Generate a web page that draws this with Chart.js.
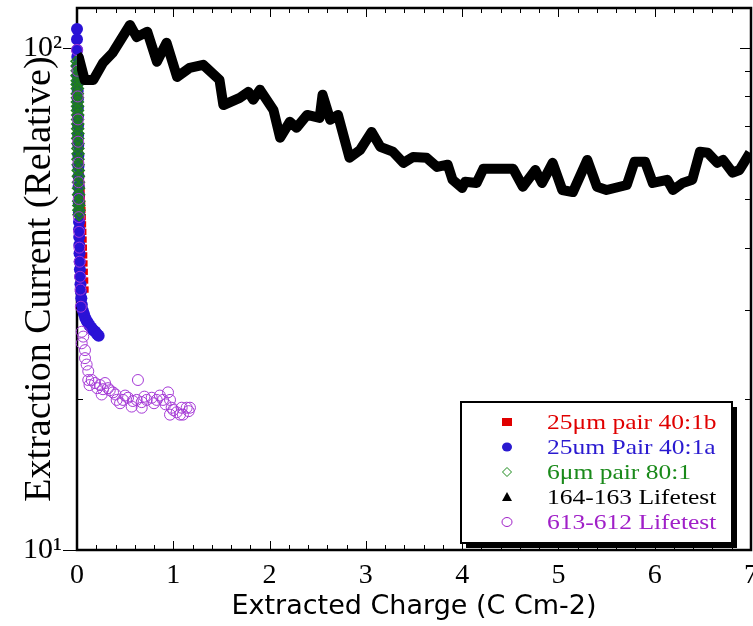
<!DOCTYPE html>
<html>
<head>
<meta charset="utf-8">
<script src="https://cdn.jsdelivr.net/npm/chart.js@4"></script>
<style>
html, body { margin: 0; padding: 0; background: #fff; }
</style>
</head>
<body>
<canvas id="chart" width="753" height="626"></canvas>
<script>
// axis ticks
const xTickValues = [0, 1, 2, 3, 4, 5, 6, 7];
const yTickValues = [10, 20, 30, 40, 50, 60, 70, 80, 90, 100];
const yTickLabels = { 10: '10\u00b9', 100: '10\u00b2' };

// 25um pair 40:1b
const redX = [0.000, 0.001, 0.002, 0.003, 0.004, 0.005, 0.006, 0.007, 0.008, 0.010, 0.012, 0.014, 0.016, 0.018,
  0.020, 0.023, 0.026, 0.029, 0.032, 0.035, 0.038, 0.041, 0.044, 0.047, 0.050, 0.053, 0.056, 0.059, 0.062,
  0.065, 0.068, 0.071, 0.074, 0.077, 0.080, 0.084, 0.088];
const redY = [100, 98, 96, 93.5, 91, 89, 86.5, 84, 82, 79.5, 77, 75, 73, 71, 69, 67, 65, 63, 61, 59,
  57, 55, 53.5, 52, 50.5, 49, 47.5, 46, 44.5, 43, 41.5, 40, 38.6, 37.2, 35.8, 34.4, 33];

// 25um Pair 40:1a
const blueX = [0.000, 0.000, 0.002, 0.003, 0.004, 0.005, 0.006, 0.007, 0.008, 0.009, 0.010, 0.011, 0.012, 0.013,
  0.014, 0.015, 0.016, 0.017, 0.018, 0.019, 0.020, 0.021, 0.022, 0.023, 0.024, 0.026, 0.028, 0.030, 0.033,
  0.036, 0.040, 0.045, 0.050, 0.060, 0.072, 0.085, 0.100, 0.115, 0.130, 0.150, 0.170, 0.190, 0.210, 0.225];
const blueY = [109, 104, 99, 96, 92, 88, 85, 82, 79, 76, 73, 70, 67, 64, 61, 58, 55.5, 53, 51, 49,
  47, 45, 43.5, 42, 40.5, 39, 37.5, 36.2, 35, 33.8, 32.7, 31.7, 30.8, 30.0, 29.5, 29.0, 28.6, 28.3,
  28.0, 27.7, 27.4, 27.2, 26.9, 26.7];

// 6um pair 80:1
const greenX = [0.000, 0.001, 0.002, 0.001, 0.003, 0.002, 0.004, 0.003, 0.005, 0.004, 0.006, 0.005, 0.007, 0.006,
  0.008, 0.007, 0.009, 0.008, 0.010, 0.009, 0.011, 0.010, 0.012, 0.013, 0.014, 0.015, 0.016, 0.017, 0.018,
  0.019, 0.020, 0.021];
const greenY = [94, 92, 90, 88, 86, 84.5, 83, 81, 79.5, 78, 76.5, 75, 73.5, 72, 70.5, 69, 67.5, 66, 64.5, 63,
  61.5, 60, 58.5, 57, 55.5, 54, 52.5, 51, 49.5, 48.5, 47.5, 46.5];

// 164-163 Lifetest
const blackX = [0.00, 0.02, 0.08, 0.17, 0.27, 0.37, 0.55, 0.62, 0.73, 0.83, 0.93, 1.04, 1.17, 1.31, 1.48, 1.52,
  1.69, 1.78, 1.83, 1.90, 2.04, 2.11, 2.21, 2.28, 2.39, 2.52, 2.55, 2.63, 2.71, 2.83, 2.94, 3.06, 3.15, 3.28,
  3.39, 3.49, 3.63, 3.74, 3.85, 3.90, 4.00, 4.03, 4.15, 4.22, 4.53, 4.63, 4.76, 4.83, 4.94, 5.04, 5.15, 5.30,
  5.40, 5.50, 5.71, 5.79, 5.90, 5.98, 6.13, 6.19, 6.29, 6.39, 6.47, 6.55, 6.65, 6.71, 6.81, 6.88, 6.99];
const blackY = [97.0, 95.5, 86.3, 86.3, 93.3, 97.7, 111, 105, 107.6, 93.8, 102.3, 87.5, 91.2, 92.5, 86.3, 76.9,
  79.5, 81.7, 78.8, 82.5, 75.2, 66.2, 71.2, 69.3, 73.5, 72.5, 80.6, 71.9, 73.5, 60.4, 62.6, 68.0, 63.5, 62.1,
  59.0, 60.6, 60.4, 57.9, 58.5, 54.6, 52.6, 54.1, 53.8, 57.4, 57.4, 52.9, 57.1, 53.8, 59.0, 52.1, 51.6, 59.8,
  52.9, 52.1, 53.3, 59.3, 59.3, 53.8, 54.6, 52.1, 53.8, 54.6, 62.1, 61.8, 59.0, 59.8, 56.4, 57.1, 61.8];

// 613-612 Lifetest
const purpleX = [0.000, 0.005, 0.008, 0.010, 0.012, 0.014, 0.016, 0.018, 0.020, 0.022, 0.025, 0.028, 0.032, 0.036,
  0.040, 0.049, 0.065, 0.049, 0.083, 0.083, 0.100, 0.117, 0.117, 0.153, 0.187, 0.239, 0.256, 0.291, 0.322,
  0.374, 0.412, 0.447, 0.478, 0.530, 0.568, 0.620, 0.633, 0.672, 0.672, 0.724, 0.776, 0.828, 0.893, 0.945,
  0.966, 0.966, 0.983, 1.035, 1.070, 1.087, 1.139, 1.173,
  0.13, 0.21, 0.27, 0.34, 0.40, 0.50, 0.58, 0.70, 0.80, 0.86, 0.92, 1.00, 1.10, 1.16];
const purpleY = [99, 90, 80, 72, 65, 59, 54, 50, 46, 43, 40, 37.5, 35, 33, 30.5, 27.2, 26.6, 25.8, 25.0, 24.1,
  23.4, 22.7, 21.8, 21.8, 21.5, 21.3, 20.4, 21.5, 21.0, 20.6, 19.9, 19.6, 19.9, 20.1, 19.3, 19.9, 21.8, 19.7,
  19.2, 19.9, 20.1, 19.9, 19.9, 20.6, 19.9, 18.6, 19.2, 18.8, 18.6, 19.2, 19.2, 19.2,
  21.3, 21.0, 20.9, 20.8, 20.4, 20.3, 19.8, 20.2, 19.6, 20.3, 19.5, 19.0, 18.6, 18.9];

const serif = '"Liberation Serif", "Times New Roman", Times, serif';

function pts(xs, ys) {
  return xs.map((x, i) => ({ x: x, y: ys[i] }));
}

// inward tick marks and the frame, drawn under the data
const frameTicks = {
  id: 'frameTicks',
  beforeDatasetsDraw(chart) {
    const { ctx, chartArea: a, scales: { x, y } } = chart;
    const seg = (x1, y1, x2, y2) => {
      ctx.beginPath();
      ctx.moveTo(x1, y1);
      ctx.lineTo(x2, y2);
      ctx.stroke();
    };
    ctx.save();
    ctx.strokeStyle = '#000';
    ctx.lineWidth = 1;
    for (let i = 0; i <= 35; i++) {
      const px = Math.round(x.getPixelForValue(i / 5)) + 0.5;
      const len = i % 5 === 0 ? 9 : 5;
      seg(px, a.bottom, px, a.bottom - len);
      seg(px, a.top, px, a.top + len);
    }
    yTickValues.forEach(v => {
      const py = Math.round(y.getPixelForValue(v)) + 0.5;
      if (yTickLabels[v]) {
        seg(a.left - 14, py, a.left + 4, py);
        seg(a.right - 11, py, a.right, py);
      } else {
        seg(a.left, py, a.left + 6, py);
        seg(a.right - 6, py, a.right, py);
      }
    });
    ctx.lineWidth = 2.5;
    ctx.strokeRect(a.left, a.top, a.right - a.left, a.bottom - a.top);

    // x tick labels (drawn here so the last one can run off the canvas like the original)
    ctx.fillStyle = '#000';
    ctx.font = '28px ' + serif;
    ctx.textAlign = 'center';
    ctx.textBaseline = 'top';
    xTickValues.forEach(v => {
      ctx.fillText(String(v), x.getPixelForValue(v), a.bottom + 12);
    });
    ctx.restore();
  }
};

// boxed legend with drop shadow, lower right
const boxLegend = {
  id: 'boxLegend',
  afterDraw(chart) {
    const { ctx, chartArea: a } = chart;
    const w = 271, h = 141;
    const bx = a.right - 19 - w;
    const by = a.bottom - 7 - h;
    ctx.save();
    ctx.fillStyle = '#000';
    ctx.fillRect(bx + 5, by + 5, w, h);
    ctx.fillStyle = '#fff';
    ctx.fillRect(bx, by, w, h);
    ctx.lineWidth = 2;
    ctx.strokeStyle = '#000';
    ctx.strokeRect(bx, by, w, h);

    chart.data.datasets.forEach((ds, i) => {
      const cy = by + 20 + i * 25;
      const cx = bx + 46;
      ctx.lineWidth = 1;
      ctx.strokeStyle = ds.legendColor;
      ctx.fillStyle = ds.legendColor;
      ctx.beginPath();
      if (ds.legendStyle === 'rect') {
        ctx.fillRect(cx - 5, cy - 4, 10, 8);
      } else if (ds.legendStyle === 'circle') {
        ctx.ellipse(cx, cy, 5, 4.5, 0, 0, Math.PI * 2);
        ctx.fill();
      } else if (ds.legendStyle === 'diamond') {
        ctx.moveTo(cx, cy - 4.5);
        ctx.lineTo(cx + 4.5, cy);
        ctx.lineTo(cx, cy + 4.5);
        ctx.lineTo(cx - 4.5, cy);
        ctx.closePath();
        ctx.stroke();
      } else if (ds.legendStyle === 'triangle') {
        ctx.moveTo(cx, cy - 5);
        ctx.lineTo(cx + 5, cy + 4);
        ctx.lineTo(cx - 5, cy + 4);
        ctx.closePath();
        ctx.fill();
      } else {
        ctx.ellipse(cx, cy, 5, 4.5, 0, 0, Math.PI * 2);
        ctx.stroke();
      }
      ctx.save();
      ctx.translate(bx + 86, cy + 1);
      ctx.scale(1.16, 1);
      ctx.font = '22px ' + serif;
      ctx.textBaseline = 'middle';
      ctx.fillText(ds.label, 0, 0);
      ctx.restore();
    });
    ctx.restore();
  }
};

const ctx = document.getElementById('chart').getContext('2d');
new Chart(ctx, {
  type: 'scatter',
  data: {
    datasets: [{
      label: '25\u03bcm pair 40:1b',
      data: pts(redX, redY),
      order: 4,
      pointStyle: 'rect',
      pointRadius: 4.5,
      backgroundColor: '#ec0000',
      borderColor: '#ec0000',
      borderWidth: 0,
      legendStyle: 'rect',
      legendColor: '#e00000',
      clip: false
    }, {
      label: '25um Pair 40:1a',
      data: pts(blueX, blueY),
      order: 3,
      pointStyle: 'circle',
      pointRadius: 6,
      backgroundColor: '#2a12d6',
      borderColor: '#2a12d6',
      borderWidth: 0,
      legendStyle: 'circle',
      legendColor: '#2a1ad0',
      clip: false
    }, {
      label: '6\u03bcm pair 80:1',
      data: pts(greenX, greenY),
      order: 2,
      pointStyle: 'rectRot',
      pointRadius: 6,
      backgroundColor: 'rgba(30,125,30,0.55)',
      borderColor: '#1f7f1f',
      borderWidth: 1.5,
      legendStyle: 'diamond',
      legendColor: '#1a8a1a',
      clip: false
    }, {
      label: '164-163 Lifetest',
      data: pts(blackX, blackY),
      order: 0,
      showLine: true,
      pointRadius: 0,
      borderColor: '#000',
      backgroundColor: '#000',
      borderWidth: 10,
      borderJoinStyle: 'round',
      legendStyle: 'triangle',
      legendColor: '#000'
    }, {
      label: '613-612 Lifetest',
      data: pts(purpleX, purpleY),
      order: 1,
      pointStyle: 'circle',
      pointRadius: 5.5,
      backgroundColor: 'rgba(0,0,0,0)',
      borderColor: '#a53ad6',
      borderWidth: 1,
      legendStyle: 'ring',
      legendColor: '#a020c8',
      clip: false
    }]
  },
  options: {
    responsive: false,
    animation: false,
    layout: { autoPadding: false, padding: { top: 8, right: 2, left: 0, bottom: 0 } },
    plugins: {
      legend: { display: false },
      tooltip: { enabled: false }
    },
    scales: {
      x: {
        type: 'linear',
        min: 0,
        max: 7,
        grid: { display: false, drawTicks: false },
        border: { display: false },
        afterBuildTicks: s => { s.ticks = xTickValues.map(v => ({ value: v })); },
        afterFit: s => { s.height = 76; },
        ticks: { display: false },
        title: {
          display: true,
          text: 'Extracted Charge (C Cm-2)',
          color: '#000',
          font: { family: 'DejaVu Sans', size: 27 },
          padding: { top: 0, bottom: 3 }
        }
      },
      y: {
        type: 'logarithmic',
        min: 10,
        max: 120,
        grid: { display: false, drawTicks: false },
        border: { display: false },
        afterBuildTicks: s => { s.ticks = yTickValues.map(v => ({ value: v })); },
        afterFit: s => { s.width = 77; s.paddingTop = 0; s.paddingBottom = 0; },
        ticks: {
          autoSkip: false,
          padding: 15,
          color: '#000',
          font: { family: serif, size: 30 },
          callback: v => yTickLabels[v] || ''
        },
        title: {
          display: true,
          text: 'Extraction Current (Relative)',
          color: '#000',
          font: { family: serif, size: 38 },
          padding: { top: 17, bottom: 0 }
        }
      }
    }
  },
  plugins: [frameTicks, boxLegend]
});
</script>
</body>
</html>
